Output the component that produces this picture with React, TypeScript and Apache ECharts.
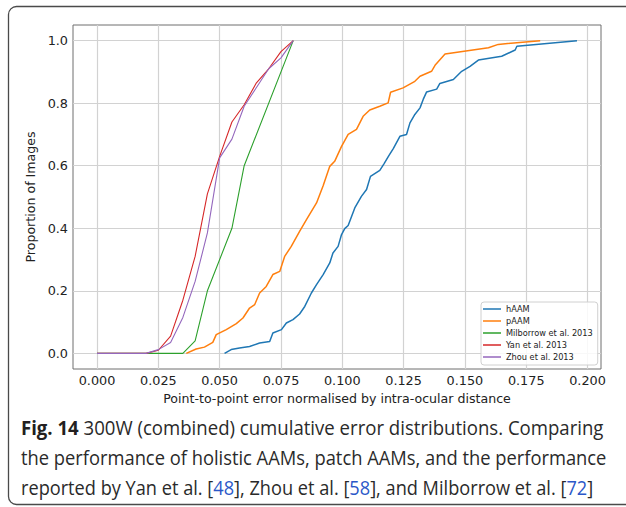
import React, { useEffect, useRef } from "react";
import * as echarts from "echarts";

const seriesNames = ["hAAM", "pAAM", "Milborrow et al. 2013", "Yan et al. 2013", "Zhou et al. 2013"];
const seriesColors = ["#1f77b4", "#ff7f0e", "#2ca02c", "#d62728", "#9467bd"];

const xTicks = [0, 0.025, 0.05, 0.075, 0.1, 0.125, 0.15, 0.175, 0.2];
const yTicks = [0, 0.2, 0.4, 0.6, 0.8, 1.0];

const hAamX = [0.052, 0.0547, 0.0581, 0.0622, 0.0663, 0.0704, 0.0717, 0.0752, 0.0772, 0.0799, 0.0826, 0.0847, 0.0874, 0.0895, 0.0922, 0.0949, 0.0962, 0.0983, 0.0997, 0.101, 0.1024, 0.1051, 0.1078, 0.1099, 0.1115, 0.1153, 0.117, 0.119, 0.1208, 0.1235, 0.1262, 0.1276, 0.1296, 0.1317, 0.133, 0.1344, 0.1385, 0.1398, 0.1453, 0.1487, 0.1521, 0.1555, 0.165, 0.1705, 0.1712, 0.1957];
const hAamY = [0.0, 0.012, 0.017, 0.022, 0.033, 0.038, 0.065, 0.076, 0.097, 0.108, 0.126, 0.15, 0.193, 0.22, 0.252, 0.289, 0.321, 0.342, 0.38, 0.399, 0.409, 0.465, 0.502, 0.524, 0.566, 0.585, 0.606, 0.632, 0.655, 0.694, 0.7, 0.737, 0.764, 0.785, 0.812, 0.836, 0.845, 0.863, 0.876, 0.902, 0.918, 0.938, 0.95, 0.97, 0.982, 1.0];

const pAamX = [0.0364, 0.0404, 0.0438, 0.0472, 0.0486, 0.0527, 0.0568, 0.0595, 0.0622, 0.0643, 0.0663, 0.069, 0.0717, 0.0745, 0.0765, 0.0792, 0.0826, 0.0854, 0.0895, 0.0922, 0.0949, 0.0969, 0.0997, 0.1024, 0.1058, 0.1085, 0.1112, 0.1153, 0.1187, 0.1197, 0.1248, 0.1296, 0.1317, 0.1364, 0.138, 0.1419, 0.1596, 0.1636, 0.1807];
const pAamY = [0.0, 0.014, 0.02, 0.035, 0.06, 0.076, 0.095, 0.113, 0.145, 0.156, 0.193, 0.214, 0.252, 0.262, 0.31, 0.342, 0.39, 0.428, 0.481, 0.536, 0.598, 0.614, 0.662, 0.7, 0.716, 0.758, 0.778, 0.79, 0.801, 0.835, 0.849, 0.87, 0.886, 0.902, 0.923, 0.957, 0.977, 0.988, 1.0];

const milX = [0, 0.035, 0.04, 0.045, 0.055, 0.06, 0.08];
const milY = [0, 0, 0.04, 0.2, 0.4, 0.6, 1.0];

const yanX = [0, 0.02, 0.025, 0.03, 0.035, 0.04, 0.045, 0.05, 0.055, 0.06, 0.065, 0.07, 0.075, 0.08];
const yanY = [0, 0, 0.01, 0.055, 0.17, 0.31, 0.51, 0.63, 0.74, 0.795, 0.865, 0.91, 0.965, 1.0];

const zhouX = [0, 0.02, 0.025, 0.03, 0.035, 0.04, 0.045, 0.05, 0.055, 0.06, 0.065, 0.07, 0.075, 0.08];
const zhouY = [0, 0, 0.012, 0.035, 0.115, 0.23, 0.385, 0.625, 0.685, 0.79, 0.85, 0.91, 0.945, 1.0];

const seriesX = [hAamX, pAamX, milX, yanX, zhouX];
const seriesY = [hAamY, pAamY, milY, yanY, zhouY];
const seriesWidths = [1.5, 1.5, 1.1, 1.1, 1.1];

const captionLines = [
  "{b|Fig. 14} 300W (combined) cumulative error distributions. Comparing",
  "the performance of holistic AAMs, patch AAMs, and the performance",
  "reported by Yan et al. [{c|48}], Zhou et al. [{c|58}], and Milborrow et al. [{c|72}]",
];
const captionScale = [0.93, 0.917, 0.909];

const CAP_FONT = '"Open Sans", "Noto Sans", sans-serif';

export default function App() {
  const ref = useRef<HTMLDivElement>(null);
  useEffect(() => {
    if (!ref.current) return;
    const chart = echarts.init(ref.current, null, { renderer: "svg" });
    const tickFont = { fontFamily: "DejaVu Sans", fontSize: 12.8, color: "#222" };
    const capRich = {
      b: { fontFamily: CAP_FONT, fontSize: 20, fontWeight: "bold", fill: "#231f20", color: "#231f20" },
      c: { fontFamily: CAP_FONT, fontSize: 20, fill: "#2b57c8", color: "#2b57c8" },
    };
    chart.setOption({
      animation: false,
      backgroundColor: "#ffffff",
      grid: { left: 73, top: 25, right: 25, bottom: 138, show: true, borderColor: "#6e6e6e", borderWidth: 1 },
      xAxis: {
        type: "value",
        min: -0.0098,
        max: 0.2055,
        name: "Point-to-point error normalised by intra-ocular distance",
        nameLocation: "middle",
        nameGap: 20,
        nameTextStyle: { fontFamily: "DejaVu Sans", fontSize: 12.6, color: "#222", verticalAlign: "top" },
        axisLine: { show: false },
        axisTick: { show: false, customValues: xTicks },
        axisLabel: { ...tickFont, margin: 5, customValues: xTicks, formatter: (v: number) => v.toFixed(3) },
        splitLine: { show: true, lineStyle: { color: "#d2d2d2", width: 1.2 } },
      },
      yAxis: {
        type: "value",
        min: -0.05,
        max: 1.05,
        name: "Proportion of Images",
        nameLocation: "middle",
        nameGap: 34,
        nameRotate: 90,
        nameTextStyle: { fontFamily: "DejaVu Sans", fontSize: 12.6, color: "#222" },
        axisLine: { show: false },
        axisTick: { show: false, customValues: yTicks },
        axisLabel: { ...tickFont, margin: 5, customValues: yTicks, formatter: (v: number) => v.toFixed(1) },
        splitLine: { show: true, lineStyle: { color: "#d2d2d2", width: 1.2 } },
      },
      legend: {
        orient: "vertical",
        left: 481,
        top: 302,
        padding: [1, 5, 2, 2],
        itemGap: 0,
        itemWidth: 18,
        itemHeight: 1.5,
        icon: "rect",
        borderColor: "#d0d0d0",
        borderWidth: 1,
        borderRadius: 3,
        backgroundColor: "rgba(255,255,255,0.85)",
        textStyle: { fontFamily: "DejaVu Sans", fontSize: 8.2, color: "#222", lineHeight: 12 },
        data: seriesNames,
      },
      series: seriesNames.map((name, i) => ({
        name,
        type: "line",
        data: seriesX[i].map((x, j) => [x, seriesY[i][j]]),
        showSymbol: false,
        symbol: "none",
        color: seriesColors[i],
        lineStyle: { color: seriesColors[i], width: seriesWidths[i] },
        z: 2 + i,
      })),
      graphic: [
        {
          type: "rect",
          shape: { x: 8.5, y: 6.5, width: 640, height: 498, r: 8 },
          style: { fill: "none", stroke: "#4a4a4a", lineWidth: 1.3 },
          silent: true,
        },
        ...captionLines.map((t, i) => ({
          type: "text",
          x: 21,
          y: 427 + i * 30.5,
          scaleX: captionScale[i],
          style: {
            text: t,
            fontFamily: CAP_FONT,
            fontSize: 20,
            fill: "#2a2a2a",
            verticalAlign: "middle",
            align: "left",
            rich: capRich,
          },
        })),
      ],
    });
    return () => chart.dispose();
  }, []);
  return <div ref={ref} style={{ position: "fixed", left: 0, top: 0, width: 626, height: 507 }} />;
}
